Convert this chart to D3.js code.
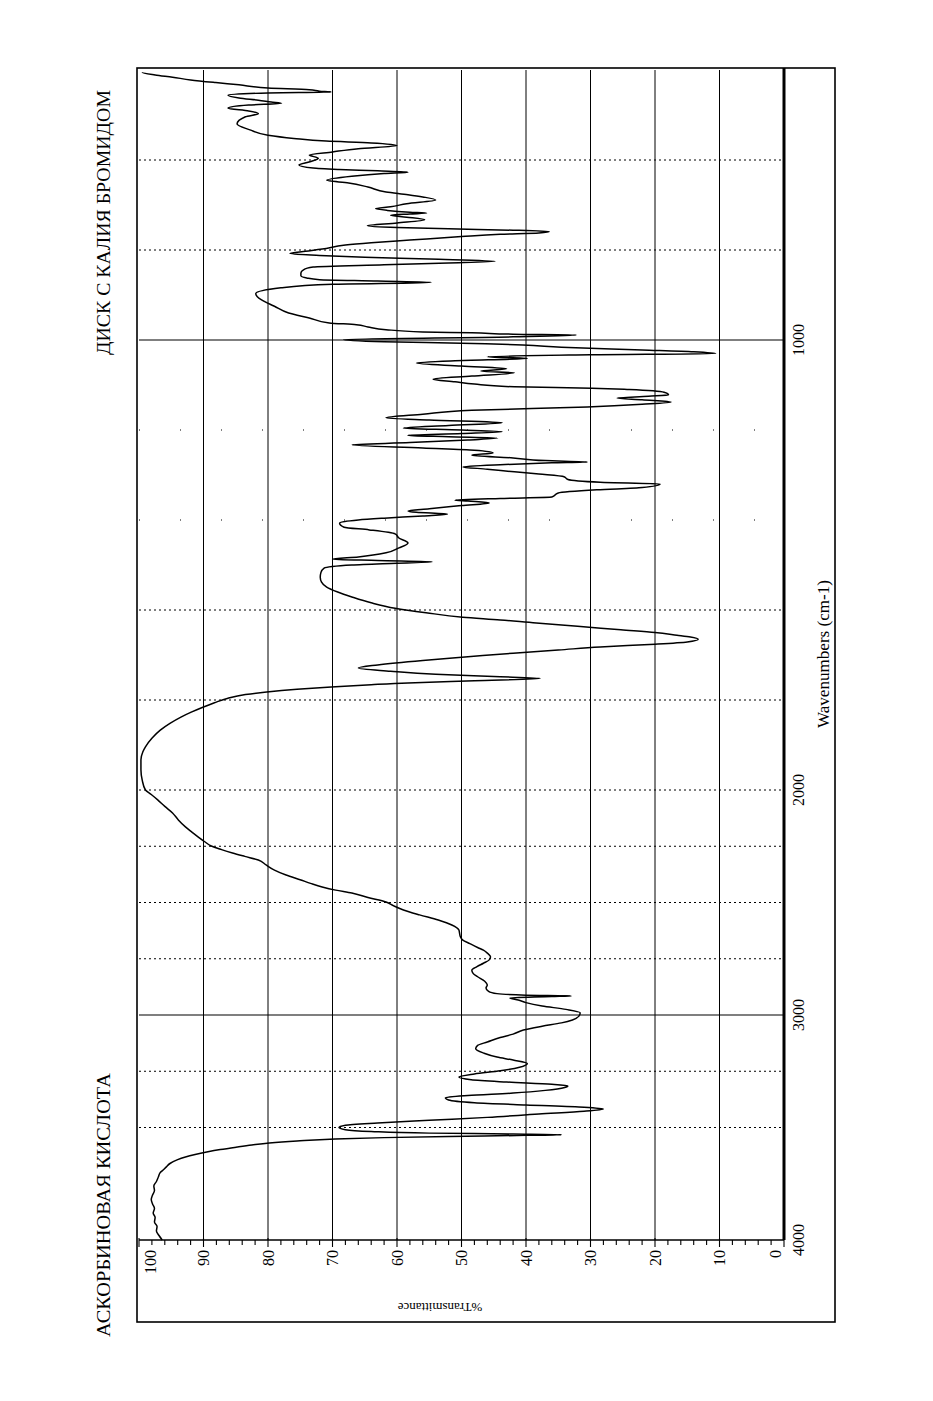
<!DOCTYPE html>
<html><head><meta charset="utf-8">
<script src="https://cdn.jsdelivr.net/npm/d3@7/dist/d3.min.js"></script>
<style>body{margin:0;background:#fff} svg{display:block}</style>
</head><body>
<svg id="chart" width="933" height="1401"></svg>
<script>
// ---------- data ----------
const wavenumbers = [
4000,3980,3960,3940,3920,3900,3880,3860,3840,3820,3800,3780,3760,3740,3720,3700,3690,3676,3660,3644,3631,3620,3609,3598,3587,3578,3569,3560,3551,3545,3540,3535,3532,3529,3525,3518,3510,3500,3490,3480,3468,3455,3440,3428,3418,3410,3400,3390,3378,3368,3358,3347,3335,3322,3315,3308,3298,3288,3276,3262,3248,3232,3215,3200,3187,3170,3150,3135,3120,3100,3085,3067,3050,3035,3022,3005,2990,2975,2960,2945,2933,2924,2918,2915,2912,2905,2895,2880,2867,2850,2830,2815,2800,2785,2770,2755,2741,2725,2712,2700,2683,2667,2650,2636,2622,
2600,2578,2555,2533,2515,2498,2478,2458,2445,2431,2415,2400,2378,2356,2333,2311,2295,2280,2265,2249,2230,2209,2187,2164,2133,2102,2073,2044,2020,2000,1978,1955,1933,1915,1904,1885,1867,1852,1838,1827,1816,1806,1796,1788,1782,1776,1771,1766,1762,1757,1752,1748,1743,1736,1729,1722,1712,1704,1696,1689,1682,1676,1671,1665,1660,1656,1650,1644,1636,1629,1622,1616,1606,1596,1584,1571,1560,1549,1538,1527,1517,1507,1500,1496,1493,1490,1487,1482,1473,1462,1451,1440,1431,1422,1416,1407,1400,1396,1391,1387,1383,1380,1375,1368,1362,1358,1356,1352,1349,1340,1333,1328,1320,1316,1310,1304,1298,1293,1287,1282,1277,1273,1271,1268,1262,1256,1251,1245,1240,1233,1228,1222,1218,1215,1212,1208,1204,1200,1196,1190,1184,1178,1173,1165,1156,1149,1143,1138,1133,1129,1125,1122,1116,1110,1107,1104,1098,1093,1087,1080,1073,1069,1064,1058,1051,1046,1041,1037,1033,1030,1026,1022,1016,1011,1007,1004,999,993,989,987,984,982,977,971,966,962,951,940,925,911,897,884,876,872,869,866,862,857,851,844,838,833,829,825,820,816,812,808,804,798,789,784,778,770,765,762,759,756,753,750,746,740,733,727,723,720,718,716,712,708,704,697,689,682,677,671,660,651,645,636,630,627,624,621,618,611,604,596,589,582,575,568,562,558,552,545,533,520,504,497,491,485,478,474,471,467,462,456,451,449,447,444,440,433,428,422,416,411,405,400];
const transmittance = [
96.4,96.9,97.3,97.2,97.6,97.5,97.8,97.6,97.9,98.1,97.9,97.6,97.7,97.3,97.0,96.7,96.3,95.8,95.2,94.1,92.8,91.3,89.5,87.4,84.8,82.5,79.8,75.5,69.6,62,52,40,34.5,42,55,64,68,69,68,63,55,46,38,31,28,31,40,48,52,52.5,49,42,37,34,33.5,36,43,48.5,50.4,48,44,41,39.8,42,44.5,46.5,47.8,47.5,46,44,42,40.4,37.5,34.5,32.8,31.8,31.6,33.8,37.5,40,41.2,42.5,36,33,40,44.5,45.8,46.2,46,46.4,47.5,48.2,48.4,47.6,46.6,45.7,45.5,46,46.6,47.5,48.7,49.8,50.2,50.3,50.4,
51.5,53.6,56.5,59,60.5,61.7,64.5,67,69.5,71.6,73.4,74.9,77.2,79,80.3,81.5,83.6,85.5,87.2,88.8,89.8,90.8,91.8,92.8,93.9,94.8,96,97.1,98.1,99,99.5,99.7,99.7,99.4,99,98,96.7,95.2,93.5,91.9,90.1,88.3,86.2,83.5,80.2,75.5,70.2,64,58.3,48,37.8,45,54,61,66,63,56,49,42,35,28.5,20,15,13.3,14.5,16.6,20,25.3,32,38.4,44,49.8,55.5,60.3,64,67,69.2,70.9,71.7,71.9,71.8,71.3,67,60,54.5,63,70,66,61.7,59.7,58.3,59.7,60.3,64.3,68.2,68.9,66,62,56,52.2,57,58.3,55,50,45.7,49,51,44,36,35,29,22,19.2,28.5,33.5,34.1,38,41.8,46,49.8,44,36,30.5,37,42,48.4,45.1,48,56,67,58,49,44.4,52,58.3,50,43.7,50,59,52,43.7,55,61.7,56,48.4,30.5,22,17.5,22,25.9,21,17.9,18.6,24,29.8,41.8,48,51,54.4,48.4,41.8,47,43,50,57,51,39.8,46,30,10.6,14,22,34.5,40.5,50,62,68.3,42,32.2,42,48.4,56,61.7,64.5,66.3,70.5,73.6,76.8,79,81,81.9,78,70,54.7,63,72,74,74.9,74.9,74.5,73,62,52,44.8,55,65,72,76.6,74.8,71.6,68,64,58,50,44,38,36.4,42,52,60,64.6,60,55.7,58.5,61,58,55.4,58,61.5,63.3,61,58.5,54,56,58.3,61.7,64.5,67.5,70.9,67,62,58.3,63,69,73,75.2,73.5,72.2,73.6,70,66,60,64,71,76,80,82.8,84.8,83.5,81.5,83,86.2,83,77.9,79.5,81.5,84.5,86.2,80,70.2,72,73.6,80,84.5,88.1,92,94.8,97.5,99.5];

const tTicks = [0,10,20,30,40,50,60,70,80,90,100];
const tMinorTicks = d3.range(0, 101, 2);
const wnTickLabels = [4000,3000,2000,1000];
const wnGridSolid = [3000,1000];
const wnGridDotted = [3500,3250,2750,2500,2250,2000,1800,1600,800,600];
const wnGridFaint = [1400,1200];
const titleLeft = "АСКОРБИНОВАЯ КИСЛОТА";
const titleRight = "ДИСК С КАЛИЯ БРОМИДОМ";
const xLabel = "Wavenumbers (cm-1)";
const yLabel = "%Transmittance";

// ---------- scales (landscape coordinates, page rotated afterwards) ----------
const x = d3.scaleLinear().domain([4000, 2000, 400]).range([161, 611, 1331]);
const y = d3.scaleLinear().domain([0, 100]).range([784, 139]);

const svg = d3.select("#chart");
const g = svg.append("g").attr("transform", "translate(0,1401) rotate(-90)");
const font = "'Liberation Serif','Times New Roman',serif";

// grid: %T lines
g.append("g").selectAll("line").data(tTicks.filter(d => d > 0 && d < 100)).join("line")
  .attr("x1", x(4000)).attr("x2", x(400))
  .attr("y1", d => y(d)).attr("y2", d => y(d))
  .attr("stroke", "#000").attr("stroke-width", 1);

// grid: wavenumber lines
g.append("g").selectAll("line").data(wnGridDotted).join("line")
  .attr("x1", d => x(d)).attr("x2", d => x(d))
  .attr("y1", y(100)).attr("y2", y(0))
  .attr("stroke", "#000").attr("stroke-width", 1).attr("stroke-dasharray", "2,3");
g.append("g").selectAll("line").data(wnGridFaint).join("line")
  .attr("x1", d => x(d)).attr("x2", d => x(d))
  .attr("y1", y(100)).attr("y2", y(0))
  .attr("stroke", "#000").attr("stroke-width", 1).attr("stroke-dasharray", "1,40");
g.append("g").selectAll("line").data(wnGridSolid).join("line")
  .attr("x1", d => x(d)).attr("x2", d => x(d))
  .attr("y1", y(100)).attr("y2", y(0))
  .attr("stroke", "#000").attr("stroke-width", 1.2);

// outer frame
g.append("rect").attr("x", 79).attr("y", 137).attr("width", 1333 - 79).attr("height", 835 - 137)
  .attr("fill", "none").attr("stroke", "#000").attr("stroke-width", 1.6);

// %T axis (at 4000 cm-1)
g.append("line").attr("x1", x(4000)).attr("x2", x(4000)).attr("y1", y(100)).attr("y2", y(0))
  .attr("stroke", "#000").attr("stroke-width", 1.6);
g.append("g").selectAll("line").data(tMinorTicks).join("line")
  .attr("x1", d => x(4000) + (d % 10 === 0 ? 2 : 0)).attr("x2", d => x(4000) - (d % 10 === 0 ? 7 : 5))
  .attr("y1", d => y(d)).attr("y2", d => y(d))
  .attr("stroke", "#000").attr("stroke-width", 1.1);
g.append("g").selectAll("text").data(tTicks).join("text")
  .attr("x", x(4000) - 10)
  .attr("y", d => y(d) + (d === 100 ? 11 : d === 0 ? -9 : 0))
  .attr("text-anchor", "end").attr("dominant-baseline", "central")
  .attr("font-family", font).attr("font-size", 16).text(d => d);

// 0 % axis (wavenumber axis)
g.append("line").attr("x1", x(4000)).attr("x2", 1333).attr("y1", y(0)).attr("y2", y(0))
  .attr("stroke", "#000").attr("stroke-width", 3);
g.append("g").selectAll("text").data(wnTickLabels).join("text")
  .attr("x", d => x(d)).attr("y", 804)
  .attr("text-anchor", "middle")
  .attr("font-family", font).attr("font-size", 16).text(d => d);

// axis titles
g.append("text").attr("x", 673).attr("y", 829)
  .attr("font-family", font).attr("font-size", 16)
  .attr("textLength", 148).attr("lengthAdjust", "spacingAndGlyphs").text(xLabel);
g.append("text").attr("transform", "translate(98,440) rotate(-90)").attr("text-anchor", "middle")
  .attr("font-family", font).attr("font-size", 13).text(yLabel);

// page titles
g.append("text").attr("x", 64).attr("y", 110)
  .attr("font-family", font).attr("font-size", 18.5)
  .attr("textLength", 264).attr("lengthAdjust", "spacingAndGlyphs").text(titleLeft);
g.append("text").attr("x", 1046).attr("y", 110)
  .attr("font-family", font).attr("font-size", 18.5)
  .attr("textLength", 265).attr("lengthAdjust", "spacingAndGlyphs").text(titleRight);

// spectrum
const pts = wavenumbers.map((w, i) => [w, transmittance[i]]);
const line = d3.line().x(d => x(d[0])).y(d => y(d[1])).curve(d3.curveMonotoneX);
g.append("path").datum(pts).attr("d", line)
  .attr("fill", "none").attr("stroke", "#000").attr("stroke-width", 1.5)
  .attr("stroke-linejoin", "round");
</script>
</body></html>
